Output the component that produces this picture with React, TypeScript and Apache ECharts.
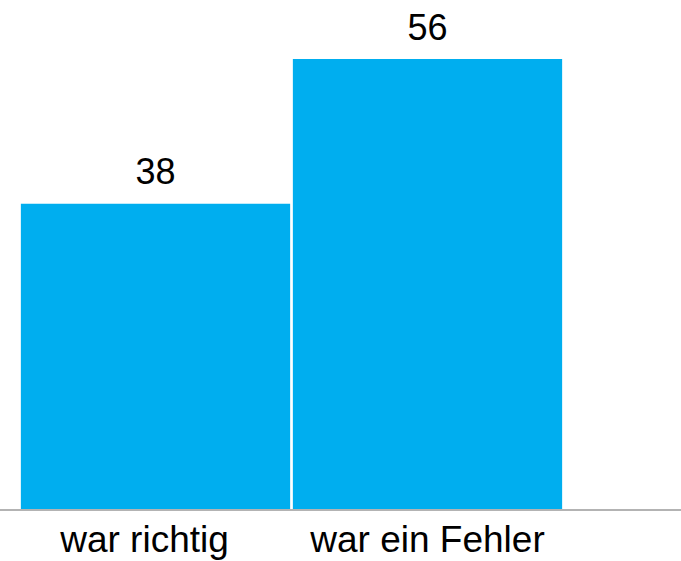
import React, { useEffect, useRef } from "react";
import * as echarts from "echarts";

const categories = ["war richtig", "war ein Fehler"];
const values = [38, 56];
const yMax = 60;

export default function App() {
  const ref = useRef<HTMLDivElement>(null);
  useEffect(() => {
    if (!ref.current) return;
    const chart = echarts.init(ref.current, null, { renderer: "svg" });
    chart.setOption({
      animation: false,
      textStyle: { fontFamily: "Liberation Sans, Arial, sans-serif" },
      grid: [
        { left: 19.5, right: 117.5, top: 26.9, bottom: 52 },
        { left: 0, right: 0, top: 26.9, bottom: 51 },
      ],
      xAxis: [
        {
          type: "category",
          gridIndex: 0,
          data: categories,
          axisLine: { show: false },
          axisTick: { show: false },
          axisLabel: {
            interval: 0,
            color: "#000",
            fontSize: 37,
            margin: 12,
            formatter: (v: string, i: number) => (i === 0 ? `{a|${v}}` : `{b|${v}}`),
            rich: {
              a: { fontSize: 37, color: "#000", padding: [0, 22, 0, 0] },
              b: { fontSize: 37, color: "#000" },
            },
          },
        },
        {
          type: "category",
          gridIndex: 1,
          data: [""],
          axisLine: { show: true, lineStyle: { color: "#b3b3b3", width: 2 } },
          axisTick: { show: false },
          axisLabel: { show: false },
        },
      ],
      yAxis: [
        { type: "value", gridIndex: 0, min: 0, max: yMax, show: false },
        { type: "value", gridIndex: 1, min: 0, max: yMax, show: false },
      ],
      series: [
        {
          type: "bar",
          xAxisIndex: 0,
          yAxisIndex: 0,
          data: values,
          barCategoryGap: "1%",
          itemStyle: { color: "#00AEEF" },
          label: {
            show: true,
            position: "top",
            distance: 14,
            color: "#000",
            fontSize: 36,
          },
        },
      ],
    });
    return () => chart.dispose();
  }, []);
  return (
    <div
      ref={ref}
      style={{ position: "fixed", left: 0, top: 0, width: 681, height: 561, background: "#fff" }}
    />
  );
}
